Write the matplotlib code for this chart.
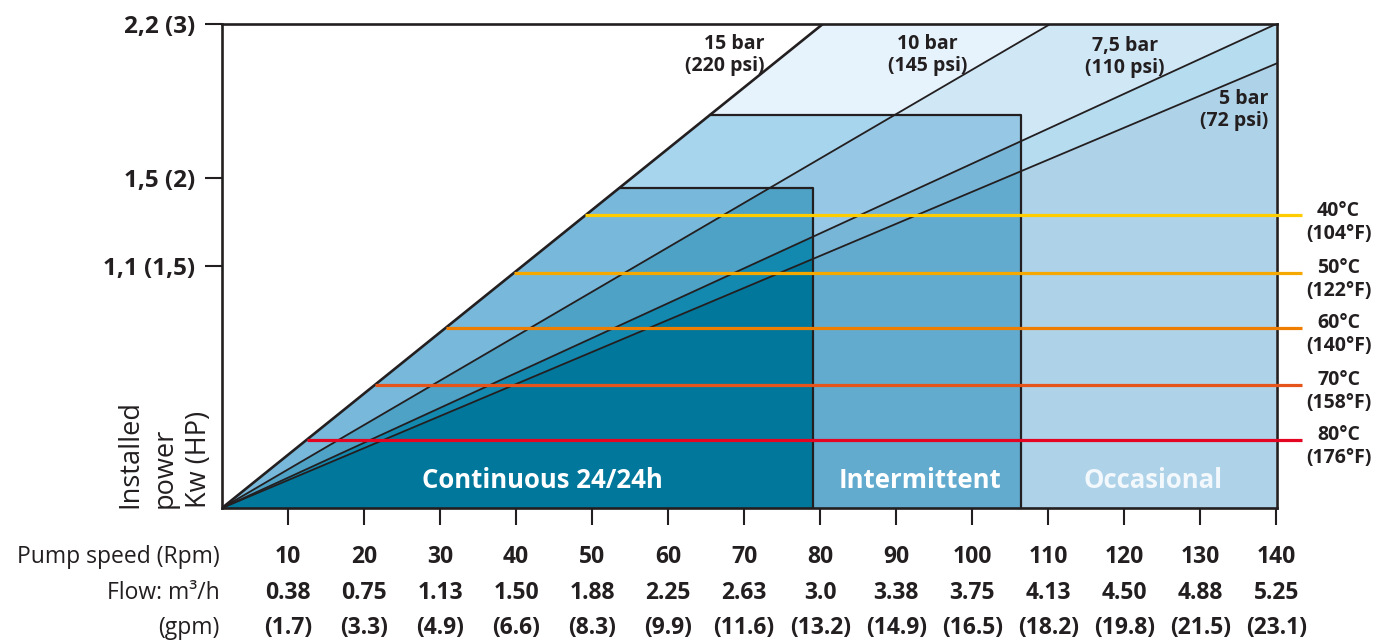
import numpy as np
import matplotlib.pyplot as plt
from matplotlib.patches import Polygon, Rectangle

plt.rcParams['font.family'] = ['Open Sans', 'DejaVu Sans']

# x axis: pump speed (rpm) with flow rows underneath
rpm = [10, 20, 30, 40, 50, 60, 70, 80, 90, 100, 110, 120, 130, 140]
flow_m3h = ['0.38', '0.75', '1.13', '1.50', '1.88', '2.25', '2.63',
            '3.0', '3.38', '3.75', '4.13', '4.50', '4.88', '5.25']
flow_gpm = [1.7, 3.3, 4.9, 6.6, 8.3, 9.9, 11.6, 13.2, 14.9, 16.5, 18.2, 19.8, 21.5, 23.1]

# y axis: installed power kW (HP)
power_ticks = [1.1, 1.5, 2.2]
power_labels = ['1,1 (1,5)', '1,5 (2)', '2,2 (3)']

# pressure lines, all starting at the origin; power reached at 140 rpm
pressure_bar = ['15', '10', '7,5', '5']
pressure_psi = [220, 145, 110, 72]
power_at_140 = [3.86, 2.80, 2.20, 2.02]

# duty zones (max rpm, max power)
zone_names = ['Continuous 24/24h', 'Intermittent', 'Occasional']
zone_rpm = [79.0, 106.4, 140.0]
zone_power = [1.456, 1.786, 2.2]

# temperature limits
temp_c = [40, 50, 60, 70, 80]
temp_f = [104, 122, 140, 158, 176]
temp_power = [1.33, 1.07, 0.82, 0.56, 0.31]

x0, x1 = 1.3, 140.1
ymax = 2.2
ink = '#231f20'

# colours per zone, bands from 15 bar downward
zone_colors = [
    ['#78b8da', '#4da2c6', '#1389b0', '#01789b'],
    ['#a8d5ee', '#96c8e5', '#78b6d8', '#62abcf'],
    ['#e6f3fc', '#d0e7f6', '#b6dcf0', '#aed2e8'],
]
temp_colors = ['#ffcc00', '#f5a800', '#ef7d00', '#e5541b', '#e30521']
zone_text_color = ['white', 'white', '#f2f8fc']

fig = plt.figure(figsize=(13.73, 6.4), dpi=100)
ax = fig.add_axes([222 / 1373, 132 / 640, 1055 / 1373, 484 / 640])
ax.set_xlim(x0, x1)
ax.set_ylim(0, ymax)

slopes = [p / (140 - x0) for p in power_at_140]
xbig = 300

# shaded bands, clipped to each zone rectangle (outermost first)
for z in [2, 1, 0]:
    clip = Rectangle((x0, 0), zone_rpm[z] - x0, zone_power[z], transform=ax.transData)
    for k in range(4):
        yu = slopes[k] * (xbig - x0)
        yl = slopes[k + 1] * (xbig - x0) if k < 3 else 0
        poly = Polygon([(x0, 0), (xbig, yu), (xbig, yl)], closed=True,
                       facecolor=zone_colors[z][k], edgecolor='none', zorder=1)
        ax.add_patch(poly)
        poly.set_clip_path(clip)

# pressure lines
for k, s in enumerate(slopes):
    ax.plot([x0, xbig], [0, s * (xbig - x0)], color=ink,
            lw=1.9 if k == 0 else 1.3, zorder=3)

# zone box outlines
for z in [0, 1]:
    xs = x0 + zone_power[z] / slopes[0]
    ax.plot([xs, zone_rpm[z], zone_rpm[z]], [zone_power[z], zone_power[z], 0],
            color=ink, lw=1.6, zorder=3)

# temperature lines and labels
for t, tf, tp, col in zip(temp_c, temp_f, temp_power, temp_colors):
    xs = x0 + tp / slopes[0]
    ax.plot([xs, 143.4], [tp, tp], color=col, lw=2.3, zorder=5,
            solid_capstyle='butt', clip_on=False)
    ax.text(148.2, tp - 0.03, f'{t}°C\n({tf}°F)', ha='center', va='center',
            fontsize=14, fontweight='bold', color=ink, linespacing=1.2,
            clip_on=False)

# pressure labels
p_pos = [(72.7, 2.06, 'right'), (94.1, 2.06, 'center'), (120.1, 2.05, 'center'),
         (139.0, 1.81, 'right')]
for (px, py, al), b, psi in zip(p_pos, pressure_bar, pressure_psi):
    ha = 'right' if al == 'right' else 'center'
    ax.text(px, py, f'{b} bar\n({psi} psi)', ha=ha, va='center', multialignment=al,
            fontsize=14, fontweight='bold', color=ink, linespacing=1.15, zorder=6)

# zone names
z_pos = [43.5, 93.1, 123.8]
for name, zx, tc in zip(zone_names, z_pos, zone_text_color):
    ax.text(zx, 0.127, name, ha='center', va='center', fontsize=18.5,
            fontweight='bold', color=tc, zorder=6)

# axes styling
for sp in ax.spines.values():
    sp.set_linewidth(1.9)
    sp.set_color(ink)
    sp.set_zorder(4)
ax.set_xticks(rpm)
ax.set_xticklabels([])
ax.set_yticks(power_ticks)
ax.set_yticklabels(power_labels, fontsize=17.5, fontweight='bold', color=ink)
ax.tick_params(axis='both', direction='out', length=12, width=1.5, color=ink)
ax.tick_params(axis='y', pad=7)

# rows of x labels
trans = ax.get_xaxis_transform()
rows_y = [-0.101, -0.176, -0.247]
for i, r in enumerate(rpm):
    ax.text(r, rows_y[0], str(r), transform=trans, ha='center', va='center',
            fontsize=16.5, fontweight='bold', color=ink)
    ax.text(r, rows_y[1], flow_m3h[i], transform=trans, ha='center', va='center',
            fontsize=16.5, fontweight='bold', color=ink)
    ax.text(r, rows_y[2], f'({flow_gpm[i]})', transform=trans, ha='center',
            va='center', fontsize=16.5, fontweight='bold', color=ink)
row_names = ['Pump speed (Rpm)', 'Flow: m³/h', '(gpm)']
for name, ry in zip(row_names, rows_y):
    ax.text(-0.002, ry, name, transform=ax.transAxes, ha='right', va='center',
            fontsize=16.5, color=ink)

ax.text(-0.054, 0.0, 'Installed\npower\nKw (HP)', transform=ax.transAxes,
        rotation=90, ha='center', va='bottom', multialignment='left',
        fontsize=19.5, color=ink, linespacing=1.3)

fig.savefig('out.png', dpi=100)
